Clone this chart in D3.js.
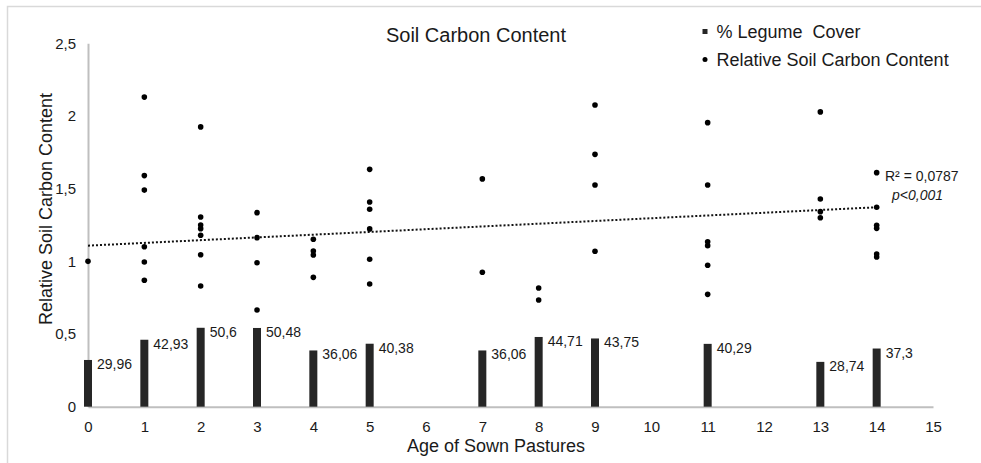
<!DOCTYPE html>
<html>
<head>
<meta charset="utf-8">
<script src="https://cdn.jsdelivr.net/npm/d3@7"></script>
<style>
  html, body { margin: 0; padding: 0; background: #fff; }
  svg { display: block; font-family: "Liberation Sans", Arial, sans-serif; }
</style>
</head>
<body>
<svg id="chart" width="981" height="463"></svg>
<script>
// ---- data ----
const barAges = [0, 1, 2, 3, 4, 5, 7, 8, 9, 11, 13, 14];
const legumeCover = [29.96, 42.93, 50.6, 50.48, 36.06, 40.38, 36.06, 44.71, 43.75, 40.29, 28.74, 37.3];
const legumeLabels = ["29,96", "42,93", "50,6", "50,48", "36,06", "40,38", "36,06", "44,71", "43,75", "40,29", "28,74", "37,3"];

const pointAges = [
  0,
  1, 1, 1, 1, 1, 1,
  2, 2, 2, 2, 2, 2, 2,
  3, 3, 3, 3,
  4, 4, 4, 4,
  5, 5, 5, 5, 5, 5,
  7, 7,
  8, 8,
  9, 9, 9, 9,
  11, 11, 11, 11, 11, 11,
  13, 13, 13, 13,
  14, 14, 14, 14, 14, 14
];
const soilCarbon = [
  1.00,
  2.13, 1.59, 1.49, 1.10, 0.995, 0.87,
  1.925, 1.305, 1.25, 1.225, 1.18, 1.045, 0.83,
  1.335, 1.163, 0.99, 0.665,
  1.152, 1.071, 1.044, 0.89,
  1.633, 1.408, 1.358, 1.223, 1.014, 0.844,
  1.567, 0.925,
  0.817, 0.734,
  2.076, 1.736, 1.525, 1.069,
  1.954, 1.525, 1.135, 1.108, 0.973, 0.773,
  2.028, 1.429, 1.342, 1.30,
  1.61, 1.372, 1.248, 1.227, 1.05, 1.03
];

const trendAges = [0, 14];
const trendValues = [1.108, 1.372];

const yTicks = [0, 0.5, 1, 1.5, 2, 2.5];
const xTicks = [0, 1, 2, 3, 4, 5, 6, 7, 8, 9, 10, 11, 12, 13, 14, 15];

const titleText = "Soil Carbon Content";
const xTitle = "Age of Sown Pastures";
const yTitle = "Relative Soil Carbon Content";
const legendItems = ["% Legume  Cover", "Relative Soil Carbon Content"];
const r2Text = "R² = 0,0787";
const pText = "p<0,001";

// ---- layout ----
const svg = d3.select("#chart");
const plotLeft = 88, plotRight = 933, plotTop = 43.3, plotBottom = 406.7;

const x = d3.scaleLinear().domain([0, 15]).range([plotLeft, plotRight]);
const y = d3.scaleLinear().domain([0, 2.5]).range([plotBottom, plotTop]);
const yBar = d3.scaleLinear().domain([0, 233]).range([plotBottom, plotTop]);

const fmt = v => String(v).replace(".", ",");
const textColor = "#1a1a1a";
const axisColor = "#bfbfbf";

// frame
svg.append("rect")
  .attr("x", 7.5).attr("y", 6.5).attr("width", 990).attr("height", 470)
  .attr("fill", "none").attr("stroke", "#d9d9d9").attr("stroke-width", 1.5);

// y axis
const yAxis = svg.append("g")
  .attr("transform", `translate(${plotLeft},0)`)
  .call(d3.axisLeft(y).tickValues(yTicks).tickSize(0).tickPadding(12).tickFormat(fmt));
yAxis.select(".domain").attr("stroke", axisColor).attr("stroke-width", 2);
yAxis.selectAll("text").attr("font-size", 15).attr("fill", textColor)
  .attr("font-family", "Liberation Sans, Arial, sans-serif");

// x axis
const xAxis = svg.append("g")
  .attr("transform", `translate(0,${plotBottom})`)
  .call(d3.axisBottom(x).tickValues(xTicks).tickSize(0).tickPadding(15).tickFormat(d3.format("d")));
xAxis.select(".domain").attr("stroke", axisColor).attr("stroke-width", 2);
xAxis.selectAll("text").attr("font-size", 15).attr("fill", textColor)
  .attr("font-family", "Liberation Sans, Arial, sans-serif");

// bars
const barW = 8;
const bars = barAges.map((a, i) => ({ age: a, v: legumeCover[i], label: legumeLabels[i] }));
svg.append("g").selectAll("rect").data(bars).join("rect")
  .attr("x", d => x(d.age) - barW / 2)
  .attr("y", d => yBar(d.v))
  .attr("width", barW)
  .attr("height", d => yBar(0) - yBar(d.v))
  .attr("fill", "#262626");

svg.append("g").selectAll("text").data(bars).join("text")
  .attr("x", d => x(d.age) + barW / 2 + 5)
  .attr("y", d => yBar(d.v) + 9)
  .attr("font-size", 14)
  .attr("fill", textColor)
  .text(d => d.label);

// trend line
const trend = trendAges.map((a, i) => [a, trendValues[i]]);
svg.append("path")
  .attr("d", d3.line().x(d => x(d[0])).y(d => y(d[1]))(trend))
  .attr("fill", "none")
  .attr("stroke", "#111")
  .attr("stroke-width", 2)
  .attr("stroke-dasharray", "2,2");

// points
const pts = pointAges.map((a, i) => [a, soilCarbon[i]]);
svg.append("g").selectAll("circle").data(pts).join("circle")
  .attr("cx", d => x(d[0]))
  .attr("cy", d => y(d[1]))
  .attr("r", 2.8)
  .attr("fill", "#000");

// title
svg.append("text")
  .attr("x", 476).attr("y", 42)
  .attr("text-anchor", "middle")
  .attr("font-size", 20)
  .attr("fill", textColor)
  .text(titleText);

// axis titles
svg.append("text")
  .attr("x", 496).attr("y", 452)
  .attr("text-anchor", "middle")
  .attr("font-size", 18)
  .attr("fill", textColor)
  .text(xTitle);

svg.append("text")
  .attr("transform", "translate(52,209) rotate(-90)")
  .attr("text-anchor", "middle")
  .attr("font-size", 18)
  .attr("fill", textColor)
  .text(yTitle);

// legend
const lg = svg.append("g");
lg.append("rect").attr("x", 702.5).attr("y", 29).attr("width", 5).attr("height", 5).attr("fill", "#262626");
lg.append("circle").attr("cx", 705).attr("cy", 59.5).attr("r", 2.5).attr("fill", "#000");
lg.selectAll("text").data(legendItems).join("text")
  .attr("x", 716.5)
  .attr("y", (d, i) => 38 + i * 27.7)
  .attr("font-size", 18)
  .attr("fill", textColor)
  .attr("xml:space", "preserve")
  .style("white-space", "pre")
  .text(d => d);

// R² annotation
svg.append("text")
  .attr("x", 885).attr("y", 181)
  .attr("font-size", 14)
  .attr("fill", textColor)
  .text(r2Text);
svg.append("text")
  .attr("x", 892).attr("y", 200)
  .attr("font-size", 14)
  .attr("font-style", "italic")
  .attr("fill", textColor)
  .text(pText);
</script>
</body>
</html>
